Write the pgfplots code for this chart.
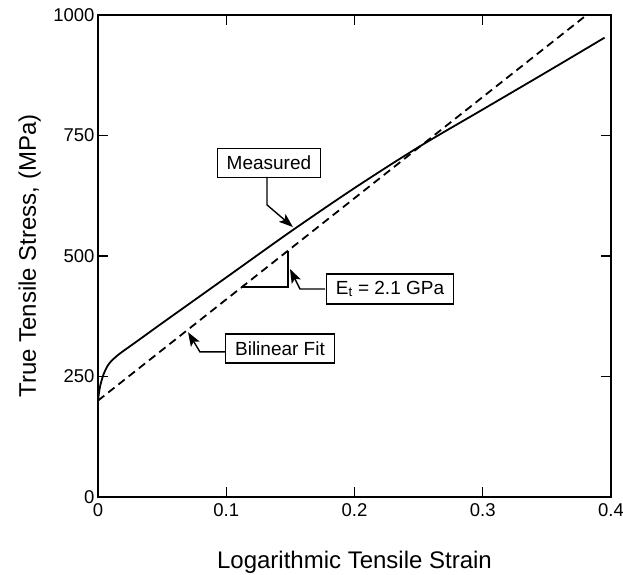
\documentclass[border=0pt]{standalone}
\usepackage{fontspec}
\setmainfont{Liberation Sans}
\usepackage{pgfplots}
\pgfplotsset{compat=1.18}
\usetikzlibrary{arrows.meta}
\begin{document}
\begin{tikzpicture}
\begin{axis}[
  scale only axis, width=513pt, height=482pt,
  xmin=0, xmax=0.4, ymin=0, ymax=1000,
  xtick={0,0.1,0.2,0.3,0.4}, ytick={0,250,500,750,1000},
  tick align=inside, xtick pos=both, ytick pos=both,
  major tick length=10pt,
  axis line style={line width=1.3pt},
  every tick/.style={line width=1.3pt, black},
  /pgf/number format/assume math mode=true,
  /pgf/number format/set thousands separator={},
  tick label style={font=\fontsize{18.5}{21}\selectfont},
  xticklabel style={/pgf/number format/fixed, /pgf/number format/precision=1, yshift=-3pt},
  label style={font=\fontsize{24}{28}\selectfont},
  xlabel={Logarithmic Tensile Strain},
  ylabel={True Tensile Stress, (MPa)},
  xlabel style={at={(axis description cs:0.5,-0.1473)}, anchor=base},
  ylabel style={at={(axis description cs:-0.1209,0.5)}, anchor=base},
  clip=false,
]
\addplot[line width=1.8pt, smooth, tension=0.5] coordinates {
 (0,200) (0.0015,228) (0.004,252) (0.007,270) (0.01,281)
 (0.014,291) (0.0185,300.5) (0.03,322.3) (0.05,360.7) (0.1,455.5) (0.15,550.3)
 (0.2,641) (0.25,726) (0.3,804) (0.35,882) (0.395,953)
};
\addplot[line width=1.8pt, dash pattern=on 8pt off 5pt] coordinates {
 (0,200) (0.381,1000)
};
\node[draw, line width=1.3pt, fill=white, font=\fontsize{19}{22}\selectfont,
      inner xsep=9.5pt, minimum height=29pt] at (axis cs:0.1333,693) {Measured};
\node[draw, line width=1.3pt, fill=white, font=\fontsize{19}{22}\selectfont,
      inner xsep=9.5pt, minimum height=30pt] at (axis cs:0.2277,431.5) {E\textsubscript{t} = 2.1 GPa};
\node[draw, line width=1.3pt, fill=white, font=\fontsize{19}{22}\selectfont,
      inner xsep=9.5pt, minimum height=29pt, anchor=west] at (axis cs:0.099,308) {Bilinear Fit};
\draw[line width=1.4pt, -{Stealth[length=14pt,width=10pt,inset=3pt]}]
  (axis cs:0.1318,664) -- (axis cs:0.1318,606) -- (axis cs:0.152,560);
\draw[line width=1.4pt, -{Stealth[length=14pt,width=10pt,inset=3pt]}]
  (axis cs:0.177,431.5) -- (axis cs:0.1575,431.5) -- (axis cs:0.1497,473);
\draw[line width=1.4pt, -{Stealth[length=14pt,width=10pt,inset=3pt]}]
  (axis cs:0.099,301) -- (axis cs:0.0795,301) -- (axis cs:0.0702,342);
\draw[line width=1.4pt] (axis cs:0.1123,436) -- (axis cs:0.1482,436) -- (axis cs:0.1482,511);
\end{axis}
\pgfresetboundingbox
\useasboundingbox (current axis.south west) ++(-98pt,-77pt) rectangle ++(623pt,574pt);
\end{tikzpicture}
\end{document}
